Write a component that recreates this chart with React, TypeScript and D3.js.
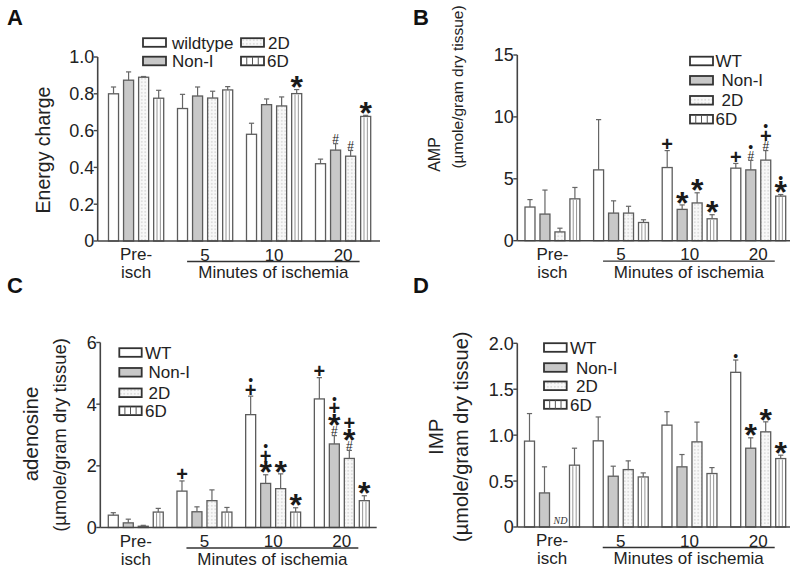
import React from "react";
import * as d3 from "d3";

// ---------- shared categories ----------
const groups = ["Pre-isch", "5", "10", "20"];
const seriesKeys = ["WT", "Non-I", "2D", "6D"];
const legendNamesA = ["wildtype", "Non-I", "2D", "6D"];
const legendNames = ["WT", "Non-I", "2D", "6D"];
const groupTickLabels = ["", "5", "10", "20"];

// ---------- Panel A: energy charge (rows = series WT, Non-I, 2D, 6D; cols = groups) ----------
const energyMean = [
  [0.8, 0.72, 0.58, 0.42],
  [0.874, 0.788, 0.741, 0.494],
  [0.89, 0.777, 0.734, 0.461],
  [0.776, 0.821, 0.801, 0.677],
];
const energyErr = [
  [0.037, 0.077, 0.06, 0.025],
  [0.045, 0.049, 0.031, 0.035],
  [0.004, 0.037, 0.049, 0.031],
  [0.043, 0.018, 0.022, 0.006],
];
const energyTicks = [0, 0.2, 0.4, 0.6, 0.8, 1.0];
const energyTickLabels = ["0", "0.2", "0.4", "0.6", "0.8", "1.0"];
const energyMarks: [number, number, string[]][] = [
  [3, 2, ["*"]],
  [3, 3, ["*"]],
  [1, 3, ["#"]],
  [2, 3, ["#"]],
];

// ---------- Panel B: AMP ----------
const ampMean = [
  [2.72, 5.72, 5.91, 5.86],
  [2.15, 2.23, 2.53, 5.72],
  [0.71, 2.23, 3.05, 6.51],
  [3.38, 1.47, 1.77, 3.6],
];
const ampErr = [
  [0.6, 4.06, 1.37, 0.38],
  [1.94, 0.99, 0.36, 0.77],
  [0.3, 0.55, 0.82, 0.77],
  [0.92, 0.22, 0.33, 0.13],
];
const ampTicks = [0, 5, 10, 15];
const ampTickLabels = ["0", "5", "10", "15"];
const ampMarks: [number, number, string[]][] = [
  [0, 2, ["+"]],
  [1, 2, ["*"]],
  [2, 2, ["*"]],
  [3, 2, ["*"]],
  [0, 3, ["+"]],
  [1, 3, ["#", "•"]],
  [2, 3, ["#", "+", "•"]],
  [3, 3, ["*", "•"]],
];

// ---------- Panel C: adenosine ----------
const adenMean = [
  [0.4, 1.18, 3.66, 4.17],
  [0.15, 0.51, 1.43, 2.71],
  [0.04, 0.87, 1.26, 2.24],
  [0.5, 0.5, 0.5, 0.87],
];
const adenErr = [
  [0.08, 0.33, 0.6, 0.69],
  [0.12, 0.16, 0.28, 0.27],
  [0.03, 0.35, 0.48, 0.26],
  [0.12, 0.15, 0.14, 0.16],
];
const adenTicks = [0, 2, 4, 6];
const adenTickLabels = ["0", "2", "4", "6"];
const adenMarks: [number, number, string[]][] = [
  [0, 1, ["+"]],
  [0, 2, ["+", "•"]],
  [1, 2, ["*", "+", "•"]],
  [2, 2, ["*"]],
  [3, 2, ["*"]],
  [0, 3, ["+"]],
  [1, 3, ["#", "*", "+", "•"]],
  [2, 3, ["#", "*", "+"]],
  [3, 3, ["*"]],
];

// ---------- Panel D: IMP (null = not detected) ----------
const impMean: (number | null)[][] = [
  [0.935, 0.938, 1.109, 1.684],
  [0.371, 0.553, 0.655, 0.858],
  [null, 0.625, 0.927, 1.036],
  [0.673, 0.545, 0.582, 0.745],
];
const impErr = [
  [0.3, 0.26, 0.146, 0.134],
  [0.284, 0.109, 0.134, 0.113],
  [0, 0.095, 0.215, 0.109],
  [0.185, 0.044, 0.065, 0.037],
];
const impTicks = [0, 0.5, 1.0, 1.5, 2.0];
const impTickLabels = ["0", "0.5", "1.0", "1.5", "2.0"];
const impMarks: [number, number, string[]][] = [
  [0, 3, ["•"]],
  [1, 3, ["*"]],
  [2, 3, ["*"]],
  [3, 3, ["*"]],
];

// ---------- styling ----------
const FONT = "'Liberation Sans', Arial, Helvetica, sans-serif";
const TEXT = "#222";
const AXIS = "#444";
const BAR_STROKE = "#5c5c5c";
const ERR = "#666";
const TICK_FS = 18;
const LABEL_FS = 17;

const symbolInfo: Record<string, { fs: number; w: string; h: number; k: number }> = {
  "*": { fs: 32, w: "bold", h: 6, k: 0.49 },
  "#": { fs: 12, w: "normal", h: 4, k: 0.36 },
  "+": { fs: 20, w: "bold", h: 5.5, k: 0.35 },
  "•": { fs: 14, w: "normal", h: 3.5, k: 0.36 },
};

type Title = { text: string; x: number; y: number; fs: number; anchor?: string };
type LegendItem = [number, number, number]; // boxX, rowCenterY, textX

type PanelCfg = {
  letter: string;
  lx: number;
  ly: number;
  means: (number | null)[][];
  errs: number[][];
  marks: [number, number, string[]][];
  yMax: number;
  ticks: number[];
  tickLabels: string[];
  axisX: number;
  axisRight: number;
  y0: number;
  yTop: number;
  barsLeft: number;
  barsRight: number;
  titles: Title[];
  legendNames: string[];
  legend: LegendItem[];
  legendBoxW: number;
};

const panels: PanelCfg[] = [
  {
    letter: "A", lx: 7, ly: 25,
    means: energyMean, errs: energyErr, marks: energyMarks,
    yMax: 1, ticks: energyTicks, tickLabels: energyTickLabels,
    axisX: 97.7, axisRight: 380, y0: 241, yTop: 57,
    barsLeft: 108.5, barsRight: 370.7,
    titles: [{ text: "Energy charge", x: 50, y: 150, fs: 19.5 }],
    legendNames: legendNamesA,
    legend: [[143, 42.5, 172], [143, 61, 172], [241, 42.5, 268], [241, 61, 267]],
    legendBoxW: 23,
  },
  {
    letter: "B", lx: 413, ly: 25,
    means: ampMean, errs: ampErr, marks: ampMarks,
    yMax: 15, ticks: ampTicks, tickLabels: ampTickLabels,
    axisX: 517.3, axisRight: 790, y0: 240.7, yTop: 55,
    barsLeft: 525, barsRight: 785.7,
    titles: [
      { text: "AMP", x: 439.5, y: 154.5, fs: 16 },
      { text: "(µmole/gram dry tissue)", x: 463, y: 87, fs: 15.5 },
    ],
    legendNames: legendNames,
    legend: [[690, 61, 715.5], [690, 80.3, 721.5], [690, 100.3, 721.5], [690, 119.2, 715.5]],
    legendBoxW: 23,
  },
  {
    letter: "C", lx: 7, ly: 293,
    means: adenMean, errs: adenErr, marks: adenMarks,
    yMax: 6, ticks: adenTicks, tickLabels: adenTickLabels,
    axisX: 100.3, axisRight: 376.7, y0: 527.5, yTop: 342.5,
    barsLeft: 108.3, barsRight: 369.3,
    titles: [
      { text: "adenosine", x: 38, y: 434, fs: 20.5 },
      { text: "(µmole/gram dry tissue)", x: 65.5, y: 435, fs: 18.4 },
    ],
    legendNames: legendNames,
    legend: [[119.3, 352.5, 145], [119.3, 372.3, 148.5], [119.3, 392.8, 148.5], [119.3, 410.8, 145]],
    legendBoxW: 22.4,
  },
  {
    letter: "D", lx: 413, ly: 293,
    means: impMean, errs: impErr, marks: impMarks,
    yMax: 2, ticks: impTicks, tickLabels: impTickLabels,
    axisX: 517.3, axisRight: 790, y0: 527, yTop: 343.3,
    barsLeft: 524.5, barsRight: 785.7,
    titles: [
      { text: "IMP", x: 442.5, y: 436.7, fs: 20.5 },
      { text: "(µmole/gram dry tissue)", x: 467.5, y: 436.7, fs: 20 },
    ],
    legendNames: legendNames,
    legend: [[544, 347.5, 570], [544, 367.5, 576], [544, 385.8, 576], [544, 404.5, 570]],
    legendBoxW: 22.7,
  },
];

function fillFor(s: number) {
  if (s === 1) return "#c8c8c8";
  if (s === 2) return "url(#dots)";
  return "#ffffff";
}

function Panel({ p }: { p: PanelCfg }) {
  const y = d3.scaleLinear().domain([0, p.yMax]).range([p.y0, p.yTop]);
  const gx = d3.scaleBand<string>().domain(groups).range([p.barsLeft, p.barsRight]).paddingInner(0.2).paddingOuter(0);
  const sx = d3.scaleBand<string>().domain(seriesKeys).range([0, gx.bandwidth()]).paddingInner(1 / 3).paddingOuter(0);
  const bw = sx.bandwidth();
  const cx = (s: number, g: number) => (gx(groups[g]) as number) + (sx(seriesKeys[s]) as number) + bw / 2;
  const gc = (g: number) => (gx(groups[g]) as number) + gx.bandwidth() / 2;

  const bars: React.ReactNode[] = [];
  const errs: React.ReactNode[] = [];
  const errTop: number[][] = [];
  p.means.forEach((row, s) => {
    errTop[s] = [];
    row.forEach((v, g) => {
      const c = cx(s, g);
      const x0 = c - bw / 2;
      if (v === null) {
        errTop[s][g] = p.y0;
        bars.push(
          <text key={`nd-${s}-${g}`} x={c + 1} y={p.y0 - 3} fontFamily="'Liberation Serif', serif" fontStyle="italic" fontSize={10} fill="#333" textAnchor="middle">ND</text>
        );
        return;
      }
      const top = y(v);
      const et = y(v + p.errs[s][g]);
      errTop[s][g] = et;
      bars.push(
        <rect key={`b-${s}-${g}`} x={x0} y={top} width={bw} height={p.y0 - top} fill={fillFor(s)} stroke={BAR_STROKE} strokeWidth={1.3} />
      );
      if (s === 3) {
        [1, 2].forEach((k) =>
          bars.push(
            <line key={`v-${s}-${g}-${k}`} x1={x0 + (bw * k) / 3} x2={x0 + (bw * k) / 3} y1={top + 1} y2={p.y0} stroke="#8a8a8a" strokeWidth={0.9} />
          )
        );
      }
      errs.push(
        <g key={`e-${s}-${g}`} stroke={ERR} strokeWidth={1.2}>
          <line x1={c} x2={c} y1={top} y2={et} />
          <line x1={c - 2.6} x2={c + 2.6} y1={et} y2={et} />
        </g>
      );
    });
  });

  const marks: React.ReactNode[] = [];
  p.marks.forEach(([s, g, syms], i) => {
    const c = cx(s, g);
    let center = errTop[s][g];
    syms.forEach((sym, j) => {
      const info = symbolInfo[sym];
      if (j === 0) center = center - (1 + info.h);
      else center = center - symbolInfo[syms[j - 1]].h - info.h - 0.5;
      marks.push(
        <text key={`m-${i}-${j}`} x={c} y={center + info.k * info.fs} fontSize={info.fs} fontWeight={info.w} textAnchor="middle" fill="#1a1a1a">{sym}</text>
      );
    });
  });

  const u0 = gc(1) - 18;
  const u1 = gc(3) + 16.5;

  return (
    <g>
      <text x={p.lx} y={p.ly} fontSize={22} fontWeight="bold" fill="#111">{p.letter}</text>
      {p.titles.map((t, i) => (
        <text key={i} transform={`translate(${t.x},${t.y}) rotate(-90)`} textAnchor={t.anchor || "middle"} fontSize={t.fs} fill={TEXT}>{t.text}</text>
      ))}
      {bars}
      {errs}
      {marks}
      {/* axes */}
      <line x1={p.axisX} x2={p.axisX} y1={p.y0} y2={p.yTop} stroke={AXIS} strokeWidth={1.6} />
      <line x1={p.axisX} x2={p.axisRight} y1={p.y0} y2={p.y0} stroke={AXIS} strokeWidth={1.6} />
      {p.ticks.map((t, i) => (
        <g key={`t-${i}`}>
          <line x1={p.axisX - 4} x2={p.axisX} y1={y(t)} y2={y(t)} stroke={AXIS} strokeWidth={1.4} />
          <text x={p.axisX - 3.5} y={y(t) + 0.36 * TICK_FS} fontSize={TICK_FS} textAnchor="end" fill={TEXT}>{p.tickLabels[i]}</text>
        </g>
      ))}
      {/* category labels */}
      <text x={gc(0)} y={p.y0 + 19} fontSize={LABEL_FS} textAnchor="middle" fill={TEXT}>Pre-</text>
      <text x={gc(0)} y={p.y0 + 37} fontSize={LABEL_FS} textAnchor="middle" fill={TEXT}>isch</text>
      {groupTickLabels.map((l, g) =>
        l ? <text key={`gl-${g}`} x={gc(g)} y={p.y0 + 19.5} fontSize={LABEL_FS} textAnchor="middle" fill={TEXT}>{l}</text> : null
      )}
      <line x1={u0} x2={u1} y1={p.y0 + 20.5} y2={p.y0 + 20.5} stroke="#333" strokeWidth={1.3} />
      <text x={(u0 + u1) / 2} y={p.y0 + 37} fontSize={LABEL_FS} textAnchor="middle" fill={TEXT}>Minutes of ischemia</text>
      {/* legend */}
      {p.legend.map(([bx, by, tx], s) => (
        <g key={`lg-${s}`}>
          <rect x={bx} y={by - 4.3} width={p.legendBoxW} height={8.6} fill={fillFor(s)} stroke="#333" strokeWidth={1.8} />
          {s === 3
            ? [1, 2, 3].map((k) => (
                <line key={k} x1={bx + (p.legendBoxW * k) / 4} x2={bx + (p.legendBoxW * k) / 4} y1={by - 4.3} y2={by + 4.3} stroke="#555" strokeWidth={1} />
              ))
            : null}
          <text x={tx} y={by + 0.36 * LABEL_FS} fontSize={LABEL_FS} fill={TEXT}>{p.legendNames[s]}</text>
        </g>
      ))}
    </g>
  );
}

export default function App() {
  return (
    <svg width={800} height={575} viewBox="0 0 800 575" style={{ position: "absolute", left: 0, top: 0, background: "#fff" }} fontFamily={FONT}>
      <defs>
        <pattern id="dots" width={3.5} height={3.5} patternUnits="userSpaceOnUse">
          <rect width={3.5} height={3.5} fill="#f8f8f8" />
          <circle cx={1.75} cy={1.75} r={0.6} fill="#b0b0b0" />
        </pattern>
      </defs>
      <rect width={800} height={575} fill="#fff" />
      {panels.map((p) => (
        <Panel key={p.letter} p={p} />
      ))}
    </svg>
  );
}
